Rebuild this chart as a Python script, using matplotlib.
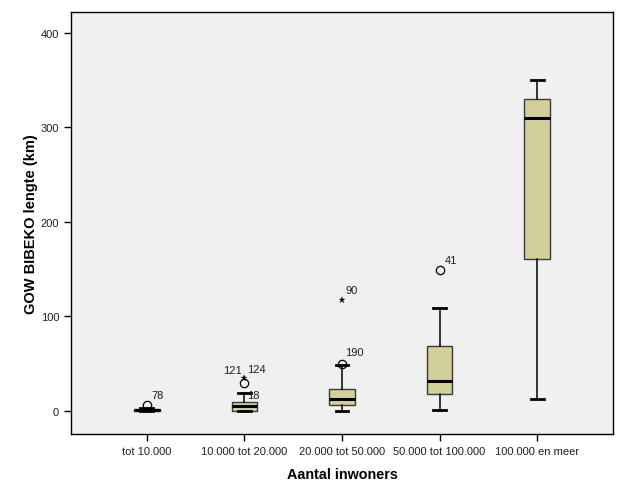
import matplotlib
matplotlib.use('Agg')
import matplotlib.pyplot as plt

# categories and box statistics (km)
categories = ['tot 10.000', '10.000 tot 20.000', '20.000 tot 50.000',
              '50.000 tot 100.000', '100.000 en meer']
q1 = [0, 0, 6, 18, 161]
median = [0.5, 5, 13, 32, 310]
q3 = [2, 9, 23, 69, 330]
whislo = [0, 0, 0, 1, 13]
whishi = [3, 19, 48, 109, 350]

# outliers (circles) and extremes (stars), per category
outliers = [[6], [29], [50], [149], []]
extremes = [[], [35], [117], [], []]

# case labels: (category index, value, label, dx px, dy px)
case_labels = [
    (0, 6, '78', 5, 10),
    (1, 35, '121', -21, 8),
    (1, 35, '124', 3, 9),
    (1, 19, '18', 3, -2),
    (2, 117, '90', 4, 10),
    (2, 50, '190', 3, 12),
    (3, 149, '41', 5, 10),
]

plt.rcParams['font.family'] = ['Liberation Sans', 'DejaVu Sans']

fig = plt.figure(figsize=(6.27, 5.02), dpi=100)
ax = fig.add_axes([71/627, 1 - 435/502, (613-71)/627, (435-13)/502])
ax.set_facecolor('#f0f0f0')

stats = []
for i in range(len(categories)):
    stats.append(dict(med=median[i], q1=q1[i], q3=q3[i], whislo=whislo[i],
                      whishi=whishi[i], fliers=[]))
pos = list(range(1, len(categories) + 1))
ax.bxp(stats, positions=pos, widths=0.26, patch_artist=True, showfliers=False,
       boxprops=dict(facecolor='#d3cf98', edgecolor='#3a3a3a', linewidth=1),
       medianprops=dict(color='black', linewidth=2.2),
       whiskerprops=dict(color='black', linewidth=1.1),
       capprops=dict(color='black', linewidth=2),
       capwidths=0.13)

for i, vals in enumerate(outliers):
    if vals:
        ax.plot([pos[i]] * len(vals), vals, 'o', mfc='none', mec='black',
                ms=6, mew=0.9, zorder=4)
for i, vals in enumerate(extremes):
    if vals:
        ax.plot([pos[i]] * len(vals), vals, '*', color='black', ms=5,
                mew=0.2, zorder=4)

for i, v, lab, dx, dy in case_labels:
    ax.annotate(lab, (pos[i], v), xytext=(dx * 0.72, dy * 0.72),
                textcoords='offset points', fontsize=8, va='center', ha='left',
                color='#202020')

ax.set_xlim(0.223, 5.777)
ax.set_ylim(-24.5, 422)
ax.set_yticks([0, 100, 200, 300, 400])
ax.set_xticks(pos)
ax.set_xticklabels(categories)
ax.tick_params(labelsize=8, length=5, width=1, colors='black', labelcolor='#202020')
for s in ax.spines.values():
    s.set_linewidth(1)
ax.set_xlabel('Aantal inwoners', fontsize=10.4, fontweight='bold', labelpad=8)
ax.set_ylabel('GOW BIBEKO lengte (km)', fontsize=10.5, fontweight='bold', labelpad=2)

fig.savefig('out.png', dpi=100)
